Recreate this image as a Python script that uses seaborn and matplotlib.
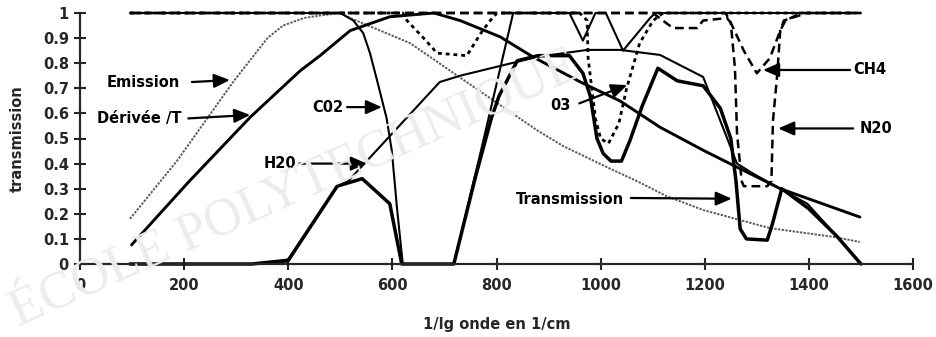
import matplotlib
matplotlib.use("Agg")
import matplotlib.pyplot as plt
import seaborn as sns

# ---- curves : wavenumber (1/cm) and value ----
wn_emission = [96, 186, 294, 360, 390, 430, 461, 500, 519, 634, 781, 880, 928,
               1018, 1070, 1127, 1197, 1325, 1447, 1498]
emission = [0.18, 0.41, 0.725, 0.90, 0.95, 0.98, 0.99, 1.0, 0.98, 0.88, 0.67,
            0.53, 0.47, 0.38, 0.33, 0.27, 0.215, 0.143, 0.108, 0.088]

wn_derivee = [99, 210, 327, 423, 461, 519, 595, 680, 730, 807, 870, 966, 1037,
              1114, 1200, 1345, 1498]
derivee = [0.076, 0.33, 0.585, 0.77, 0.83, 0.93, 0.985, 1.0, 0.97, 0.905, 0.825,
           0.72, 0.65, 0.545, 0.45, 0.30, 0.187]

wn_co2 = [96, 500, 525, 544, 557, 572, 589, 599, 609, 620, 718, 770, 832, 940,
          966, 990, 1010, 1043, 1095, 1105, 1500]
co2 = [1.0, 1.0, 0.97, 0.92, 0.84, 0.72, 0.58, 0.45, 0.22, 0.0, 0.0, 0.45, 1.0,
       1.0, 0.89, 1.0, 1.0, 0.85, 0.98, 1.0, 1.0]

wn_h2o = [96, 330, 400, 494, 515, 691, 730, 878, 974, 1037, 1114, 1197, 1262,
          1293, 1345, 1397, 1454, 1500]
h2o = [0.0, 0.0, 0.01, 0.31, 0.33, 0.725, 0.75, 0.825, 0.853, 0.853, 0.833,
       0.745, 0.40, 0.36, 0.30, 0.24, 0.11, 0.0]

wn_o3 = [96, 620, 628, 660, 686, 743, 770, 788, 801, 960, 974, 976, 990, 1000,
         1015, 1035, 1050, 1075, 1101, 1120, 1500]
o3 = [1.0, 1.0, 0.97, 0.90, 0.84, 0.83, 0.92, 0.97, 1.0, 1.0, 0.97, 0.82, 0.58,
      0.50, 0.48, 0.56, 0.70, 0.88, 0.97, 1.0, 1.0]

wn_ch4 = [96, 1240, 1248, 1275, 1300, 1325, 1345, 1355, 1385, 1500]
ch4 = [1.0, 1.0, 0.97, 0.85, 0.76, 0.82, 0.93, 0.97, 1.0, 1.0]

wn_n2o = [96, 1100, 1139, 1185, 1197, 1243, 1250, 1258, 1262, 1271, 1275, 1320,
          1328, 1331, 1339, 1345, 1352, 1396, 1500]
n2o = [1.0, 1.0, 0.94, 0.94, 0.97, 0.98, 0.96, 0.78, 0.52, 0.33, 0.31, 0.31,
       0.33, 0.57, 0.75, 0.93, 0.97, 1.0, 1.0]

wn_trans = [96, 330, 400, 494, 542, 595, 618, 718, 760, 790, 805, 840, 880, 940,
            966, 980, 993, 1005, 1020, 1040, 1056, 1080, 1110, 1147, 1197, 1230,
            1250, 1260, 1268, 1280, 1320, 1330, 1348, 1400, 1454, 1500]
trans = [0.0, 0.0, 0.015, 0.31, 0.34, 0.24, 0.0, 0.0, 0.35, 0.58, 0.67, 0.81,
         0.83, 0.83, 0.76, 0.67, 0.50, 0.44, 0.41, 0.41, 0.49, 0.63, 0.78, 0.73,
         0.71, 0.62, 0.50, 0.33, 0.14, 0.10, 0.095, 0.16, 0.30, 0.22, 0.11, 0.0]

# ---- axis ticks ----
x_ticks = [0, 200, 400, 600, 800, 1000, 1200, 1400, 1600]
y_ticks = [0, 0.1, 0.2, 0.3, 0.4, 0.5, 0.6, 0.7, 0.8, 0.9, 1.0]
y_tick_labels = ["0", "0.1", "0.2", "0.3", "0.4", "0.5", "0.6", "0.7", "0.8",
                 "0.9", "1"]

# ---- curve labels: (text, text position, arrow tail, arrow tip) ----
labels = [
    ("Emission", (52, 0.725), (215, 0.725), (288, 0.733)),
    ("Dérivée /T", (33, 0.58), (208, 0.58), (327, 0.594)),
    ("C02", (446, 0.625), (513, 0.625), (580, 0.625)),
    ("H20", (353, 0.40), (421, 0.40), (551, 0.40)),
    ("03", (903, 0.633), (959, 0.64), (1051, 0.713)),
    ("CH4", (1485, 0.773), (1479, 0.773), (1312, 0.773)),
    ("N20", (1498, 0.54), (1485, 0.54), (1341, 0.54)),
    ("Transmission", (837, 0.255), (1058, 0.263), (1252, 0.26)),
]

sns.set_style("ticks")
plt.rcParams["font.family"] = ["DejaVu Sans"]

fig = plt.figure(figsize=(9.36, 3.37), dpi=100)

# faint diagonal stamp across the sheet
fig.text(0.02, 0.03, "ÉCOLE POLYTECHNIQUE", rotation=24,
         rotation_mode="anchor", ha="left", va="baseline", fontsize=38,
         family="Liberation Serif", color="#ececec", zorder=0)

ax = fig.add_axes([80 / 936, 73 / 337, 833 / 936, 251 / 337])
ax.patch.set_alpha(0)

common = dict(ax=ax, estimator=None, sort=False, clip_on=False, legend=False)
sns.lineplot(x=wn_emission, y=emission, color="#5a5a5a", lw=1.4,
             linestyle=(0, (1.2, 0.7)), **common)
sns.lineplot(x=wn_co2, y=co2, color="black", lw=1.5, **common)
sns.lineplot(x=wn_h2o, y=h2o, color="black", lw=1.5, **common)
sns.lineplot(x=wn_o3, y=o3, color="black", lw=2.0,
             linestyle=(0, (1.4, 1.4)), **common)
sns.lineplot(x=wn_ch4, y=ch4, color="black", lw=1.8,
             linestyle=(0, (3.5, 2.0)), **common)
sns.lineplot(x=wn_n2o, y=n2o, color="black", lw=1.8,
             linestyle=(0, (3.5, 2.0)), **common)
sns.lineplot(x=wn_derivee, y=derivee, color="black", lw=2.1, **common)
sns.lineplot(x=wn_trans, y=trans, color="black", lw=2.5, **common)

for text, pos, tail, tip in labels:
    ax.text(pos[0], pos[1], text, ha="left", va="center", fontsize=10.5,
            fontweight="bold", color="black")
    ax.annotate("", xy=tip, xytext=tail,
                arrowprops=dict(arrowstyle="-|>,head_length=0.8,head_width=0.35",
                                lw=1.6, color="black", shrinkA=0, shrinkB=0,
                                mutation_scale=12))

ax.set_xlim(0, 1600)
ax.set_ylim(0, 1)
ax.set_xticks(x_ticks)
ax.set_xticklabels([str(v) for v in x_ticks], fontweight="bold", fontsize=10.5)
ax.set_yticks(y_ticks)
ax.set_yticklabels(y_tick_labels, fontweight="bold", fontsize=10.5)
ax.tick_params(direction="inout", length=8, width=1.5, pad=4)
ax.tick_params(axis="x", pad=6)

for side in ("top", "right"):
    ax.spines[side].set_visible(False)
for side in ("left", "bottom"):
    ax.spines[side].set_linewidth(1.6)

ax.set_xlabel("1/lg onde en 1/cm", fontweight="bold", fontsize=10.5,
              labelpad=17)
ax.set_ylabel("transmission", fontweight="bold", fontsize=10.5)
ax.yaxis.set_label_coords(-0.066, 0.5)

fig.savefig("out.png", dpi=100)
